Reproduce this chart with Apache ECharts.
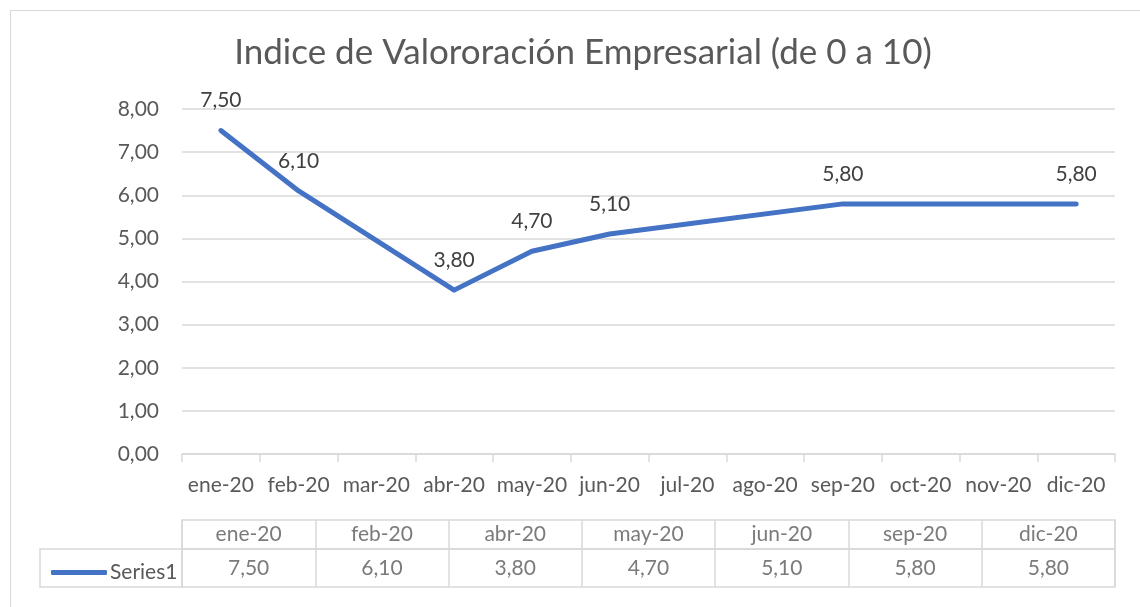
<!DOCTYPE html>
<html lang="es">
<head>
  <meta charset="UTF-8">
  <title>Indice de Valororación Empresarial</title>
  <script src="https://cdn.jsdelivr.net/npm/echarts@6/dist/echarts.min.js"></script>
  <style>
    body{margin:0;background:#fff}
    #frame{position:absolute;left:10px;top:10px;width:1140px;height:610px;border:1px solid #d9d9d9;box-sizing:border-box}
    #main{position:absolute;left:0;top:0;width:1140px;height:607px}
  </style>
</head>
<body>
  <div id="frame"></div>
  <div id="main"></div>

  <script>
  // meses del eje y valores (null = sin dato)
  const months = ['ene-20','feb-20','mar-20','abr-20','may-20','jun-20','jul-20','ago-20','sep-20','oct-20','nov-20','dic-20'];
  const values = [7.5, 6.1, null, 3.8, 4.7, 5.1, null, null, 5.8, null, null, 5.8];
  // tabla de datos
  const tableCats = ['ene-20','feb-20','abr-20','may-20','jun-20','sep-20','dic-20'];
  const tableVals = [7.5, 6.1, 3.8, 4.7, 5.1, 5.8, 5.8];

  const fmt = v => v.toFixed(2).replace('.', ',');
  const FONT = 'Lato';
  const FS = 21;
  const GRAY = '#595959';
  const LINE = '#d9d9d9';

  const chart = echarts.init(document.getElementById('main'));

  const tableX = idx => ({
    type:'category', gridIndex:idx, data:tableCats, boundaryGap:true,
    axisLine:{show:false}, axisTick:{show:false}, axisLabel:{show:false},
    splitLine:{show:true, interval:0, lineStyle:{color:LINE, width:1.5}}
  });
  const tableY = idx => ({type:'category', gridIndex:idx, data:['r'], show:false});

  chart.setOption({
    textStyle:{fontFamily:FONT},
    title:{
      text:'Indice de Valororación Empresarial (de 0 a 10)',
      left:578, top:30, textAlign:'center',
      textStyle:{fontFamily:FONT, fontSize:35, fontWeight:'normal', color:GRAY}
    },
    legend:{
      left:46, top:557, itemWidth:56, itemHeight:5, itemGap:4,
      data:[{name:'Series1', icon:'roundRect', itemStyle:{color:'#4472C4'}}],
      textStyle:{fontFamily:FONT, fontSize:FS, color:GRAY, padding:[0,0,0,-2]}
    },
    grid:[
      {left:182, right:25, top:109, height:345},
      {left:182, right:25, top:520, height:29, show:true, borderColor:LINE, borderWidth:1.5},
      {left:182, right:25, top:549, height:38, show:true, borderColor:LINE, borderWidth:1.5},
      {left:40, width:142, top:549, height:38, show:true, borderColor:LINE, borderWidth:1.5}
    ],
    xAxis:[
      {
        type:'category', gridIndex:0, data:months, boundaryGap:true,
        axisLine:{lineStyle:{color:LINE, width:1.5}},
        axisTick:{show:true, interval:0, length:8, lineStyle:{color:LINE, width:1.5}},
        axisLabel:{interval:0, margin:21, fontFamily:FONT, fontSize:FS, color:GRAY}
      },
      tableX(1), tableX(2),
      {type:'value', gridIndex:3, show:false}
    ],
    yAxis:[
      {
        type:'value', gridIndex:0, min:0, max:8, interval:1,
        axisLine:{show:false}, axisTick:{show:false},
        axisLabel:{margin:23, fontFamily:FONT, fontSize:FS, color:GRAY, formatter:fmt},
        splitLine:{lineStyle:{color:LINE, width:1.5}}
      },
      tableY(1), tableY(2),
      {type:'value', gridIndex:3, show:false}
    ],
    series:[
      {
        name:'Series1', type:'line', xAxisIndex:0, yAxisIndex:0,
        data:values, connectNulls:true,
        symbol:'circle', symbolSize:1,
        itemStyle:{color:'#4472C4'},
        lineStyle:{color:'#4472C4', width:5, cap:'round', join:'round'},
        label:{show:true, position:'top', distance:19, fontFamily:FONT, fontSize:FS, color:'#404040',
               formatter:p => p.value == null ? '' : fmt(p.value)}
      },
      {
        name:'head', type:'scatter', xAxisIndex:1, yAxisIndex:1,
        data:tableCats.map(c => [c, 'r']), symbolSize:1, itemStyle:{color:'transparent'},
        label:{show:true, position:'inside', fontFamily:FONT, fontSize:FS, color:GRAY,
               formatter:p => p.value[0]},
        silent:true
      },
      {
        name:'vals', type:'scatter', xAxisIndex:2, yAxisIndex:2,
        data:tableCats.map((c, i) => [c, 'r', tableVals[i]]), symbolSize:1, itemStyle:{color:'transparent'},
        label:{show:true, position:'inside', fontFamily:FONT, fontSize:FS, color:GRAY,
               formatter:p => fmt(p.value[2])},
        silent:true
      }
    ]
  });
  </script>
</body>
</html>
